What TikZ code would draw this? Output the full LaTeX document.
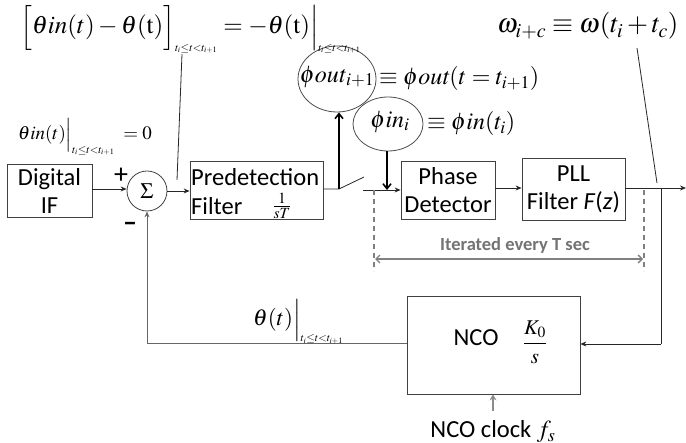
\documentclass[tikz,border=0pt]{standalone}
\usepackage{mathptmx}
\usepackage[no-math]{fontspec}
\setmainfont{Carlito}
\usetikzlibrary{arrows.meta,shapes.geometric}
\newcommand\myrng{\mbox{\fontsize{11}{12}\selectfont$t_i{\le}t{<}t_{i+1}$}}
\begin{document}
\begin{tikzpicture}[x=1pt,y=-1pt,
  box/.style={draw=black!75, line width=0.8pt, rectangle, inner sep=0pt, font=\fontsize{24.5}{28}\selectfont, align=center},
  txt/.style={inner sep=0pt, font=\fontsize{24.5}{28}\selectfont},
  mth/.style={inner sep=0pt, font=\fontsize{24}{28}\selectfont},
  wire/.style={draw=black!85, line width=0.8pt},
  arr/.style={wire,-{Stealth[length=6pt,width=5pt]}},
  bigarr/.style={draw=black, line width=1.6pt,-{Straight Barb[length=5pt,width=8pt]}},
  gwire/.style={draw=black!60, line width=1pt},
  bubble/.style={ellipse, draw=black!70, line width=0.8pt, fill=white, inner sep=0pt},
  dashline/.style={draw=black!50, line width=1.2pt, dash pattern=on 5pt off 4pt},
  grayarr/.style={draw=black!50, line width=1.4pt, {Straight Barb[length=4pt,width=8pt]}-{Straight Barb[length=4pt,width=8pt]}}
]
\useasboundingbox (0,0) rectangle (686,443);

% blocks
\node[box, minimum width=85pt, minimum height=53pt] (dif) at (49.5,190.5) {Digital\\IF};
\node[circle, draw=black!75, line width=0.8pt, minimum size=40pt, inner sep=0pt, font=\fontsize{22}{26}\selectfont] (sum) at (147,191) {$\Sigma$};
\node[box, minimum width=133pt, minimum height=58pt] (pre) at (256.5,190) {};
\node[txt, anchor=west] (pretxt) at (191,177) {Predetection};
\node[txt, anchor=west] (filtxt) at (191,206) {Filter};
\node[inner sep=0pt, font=\fontsize{21}{24}\selectfont] (prefrac) at (282,206) {$\frac{1}{sT}$};
\node[box, minimum width=94pt, minimum height=58pt] (pd) at (448,190) {Phase\\Detector};
\node[box, minimum width=103pt, minimum height=62pt] (pll) at (573.5,189) {PLL\\Filter \textit{F}(\textit{z})};
\node[box, minimum width=173pt, minimum height=98pt] (nco) at (493.5,345) {};
\node[txt] (ncotxt) at (476,338) {NCO};
\node[inner sep=0pt, font=\fontsize{21}{24}\selectfont] (ncofrac) at (535,342) {$\displaystyle\frac{K_0}{s}$};

% signs
\node[txt, font=\fontsize{28}{30}\selectfont] (plus) at (121,176) {+};
\node[txt, font=\fontsize{28}{30}\selectfont\bfseries] (minus) at (130,227) {–};

% switch points
\coordinate (sw1) at (339,189);
\coordinate (swtop) at (364,177);
\coordinate (sw2) at (363,190);
\coordinate (pdin) at (387,190);
\coordinate (tap) at (661,188);
\coordinate (tapd) at (661,344);
\coordinate (outend) at (686,188);
\coordinate (fbc) at (147,344);
\coordinate (clk) at (493,411);

% bubbles
\node[bubble, minimum width=78pt, minimum height=66pt] (phiout) at (337,79) {};
\node[mth] (phiouttxt) at (337,77) {$\phi\mathit{out}_{i+1}$};
\node[bubble, minimum width=70pt, minimum height=54pt] (phiin) at (388,124) {};
\node[mth] (phiintxt) at (390,122) {$\phi\mathit{in}_{i}$};
\node[mth, anchor=west] (phioutdef) at (379,79) {$\equiv \phi\mathit{out}(t=t_{i+1})$};
\node[mth, anchor=west] (phiindef) at (427,124) {$\equiv \phi\mathit{in}(t_{i})$};

% connectors
\draw[arr] (dif.east |- 0,189) -- (sum.west |- 0,189);
\draw[arr] (sum.east) -- (pre.west |- sum.east);
\draw[wire] (pre.east |- sw1) -- (sw1) -- (swtop);
\draw[bigarr] (sw1) -- (phiout.south -| sw1);
\draw[arr] (sw2) -- (pd.west |- sw2);
\draw[bigarr] (phiin.south -| pdin) -- (pdin);
\draw[arr] (pd.east |- 0,188) -- (pll.west |- 0,188);
\draw[arr] (pll.east |- 0,188) -- (outend);
\draw[wire] (tap) -- (tapd);
\draw[arr] (tapd) -- (nco.east |- tapd);
\draw[gwire,-{Stealth[length=6pt,width=5pt]}] (nco.west |- fbc) -- (fbc) -- (sum.south);
\draw[draw=black!45, line width=2pt,-{Stealth[length=6pt,width=7pt]}] (clk) -- (nco.south -| clk);

% iterated span
\draw[dashline] (374,190) -- (374,271);
\draw[dashline] (644,190) -- (644,271);
\draw[grayarr] (375,259) -- (643,259);
\node[inner sep=0pt, text=black!55, font=\fontsize{18.5}{22}\selectfont\bfseries] (iter) at (515,245) {Iterated every T sec};

% labels
\node[inner sep=0pt, anchor=base west, font=\fontsize{25}{28}\selectfont] (toplbl) at (20,34) {$\Big[\theta\mathit{in}(t)-\theta(\mathrm{t})\Big]_{\myrng}=-\theta(\mathrm{t})\Big|_{\myrng}$};
\coordinate (toplblend) at (182,54);
\coordinate (topline) at (177,180);
\draw[wire] (toplblend) -- (topline);

\node[inner sep=0pt, anchor=base west, font=\fontsize{19}{22}\selectfont] (zerolbl) at (18,140) {$\theta\mathit{in}(t)\Big|_{\myrng}\;=0$};

\node[inner sep=0pt, anchor=base west, font=\fontsize{27}{30}\selectfont] (omegalbl) at (497,33) {$\omega_{i+c}\equiv\omega(t_i+t_c)$};
\coordinate (omegaend) at (637,48);
\coordinate (omegatip) at (657,183);
\draw[wire] (omegaend) -- (omegatip);

\node[inner sep=0pt, anchor=base west, font=\fontsize{23}{28}\selectfont] (thetalbl) at (253,326) {$\theta(t)\Big|_{\myrng}$};

\node[txt] (clklbl) at (493,432) {NCO clock $f_s$};
\end{tikzpicture}
\end{document}
